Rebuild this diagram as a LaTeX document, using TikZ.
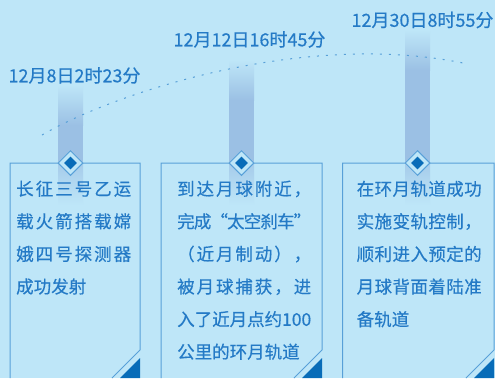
\documentclass[tikz,border=0pt]{standalone}
\usepackage{fontspec}
\setmainfont{Noto Sans CJK SC}[FakeBold=0.4]
\usetikzlibrary{shapes.geometric}

\definecolor{bgblue}{RGB}{190,230,248}
\definecolor{barblue}{RGB}{155,192,228}
\definecolor{lineblue}{RGB}{88,160,216}
\definecolor{txtblue}{RGB}{36,122,198}
\definecolor{darkblue}{RGB}{8,108,184}

% spread the characters of one line over a given width
\def\spreadit#1{\ifx\relax#1\else{#1}\hskip0pt plus1fil minus2pt\expandafter\spreadit\fi}
\newcommand{\jl}[2]{\hbox to #1pt{\spreadit#2\relax\unskip}}

\tikzset{
  box/.style={draw=lineblue, line width=1pt},
  dmdout/.style={diamond, draw=lineblue, fill=bgblue, line width=1pt, inner sep=0pt, minimum size=25pt},
  dmdin/.style={diamond, fill=darkblue, inner sep=0pt, minimum size=13pt},
  date/.style={text=txtblue, inner sep=0pt, font=\fontsize{18}{20}\selectfont},
  body/.style={text=txtblue, inner sep=0pt, anchor=north west, align=left, font=\fontsize{17.5}{32.6}\selectfont},
}

\begin{document}
\begin{tikzpicture}[x=1pt,y=-1pt]
\useasboundingbox (0,0) rectangle (495,378);
\fill[bgblue] (0,0) rectangle (495,378);

% bars
\foreach \x/\t in {70.5/85,241.5/60,417.5/30}{
\shade[top color=bgblue, bottom color=barblue] (\x-12.5,\t) rectangle (\x+12.5,\t+40);
\fill[barblue] (\x-12.5,\t+39.5) rectangle (\x+12.5,163);
\shade[top color=barblue!70!bgblue, bottom color=bgblue] (\x-12.5,163) rectangle (\x+12.5,205);
}

% boxes with folded corner
\foreach \l/\r in {10/140,161/322,342.5/494}{
\draw[box] (\l,378) -- (\l,163) -- (\r,163) -- (\r,350) -- (\r-28,378);
\fill[darkblue] (\r,358) -- (\r,378) -- (\r-20,378) -- cycle;
}

\draw[lineblue, line width=1pt, dash pattern=on 2pt off 7pt] (42,135) .. controls (110,95) and (300,30) .. (463,63);

\foreach \x [count=\i] in {70.5,241.5,417.5}{
\node[dmdout] (d\i) at (\x,163) {};
\node[dmdin] (di\i) at (d\i) {};
}

\node[date] (t1) at (74.5,75.5) {12月8日2时23分};
\node[date] (t2) at (249.5,39.5) {12月12日16时45分};
\node[date] (t3) at (422.5,20) {12月30日8时55分};

\node[body] (b1) at (16,180.5) {\jl{115}{长征三号乙运}\\ \jl{115}{载火箭搭载嫦}\\ \jl{115}{娥四号探测器}\\ 成功发射};
\node[body] (b2) at (177,180.5) {\jl{134}{到达月球附近，}\\ \jl{134}{完成“太空刹车”}\\ \jl{134}{（近月制动），}\\ \jl{134}{被月球捕获，进}\\ \jl{134}{入了近月点约{100}}\\ 公里的环月轨道};
\node[body] (b3) at (356.5,180.5) {\jl{125}{在环月轨道成功}\\ \jl{125}{实施变轨控制，}\\ \jl{125}{顺利进入预定的}\\ \jl{125}{月球背面着陆准}\\ 备轨道};
\end{tikzpicture}
\end{document}
